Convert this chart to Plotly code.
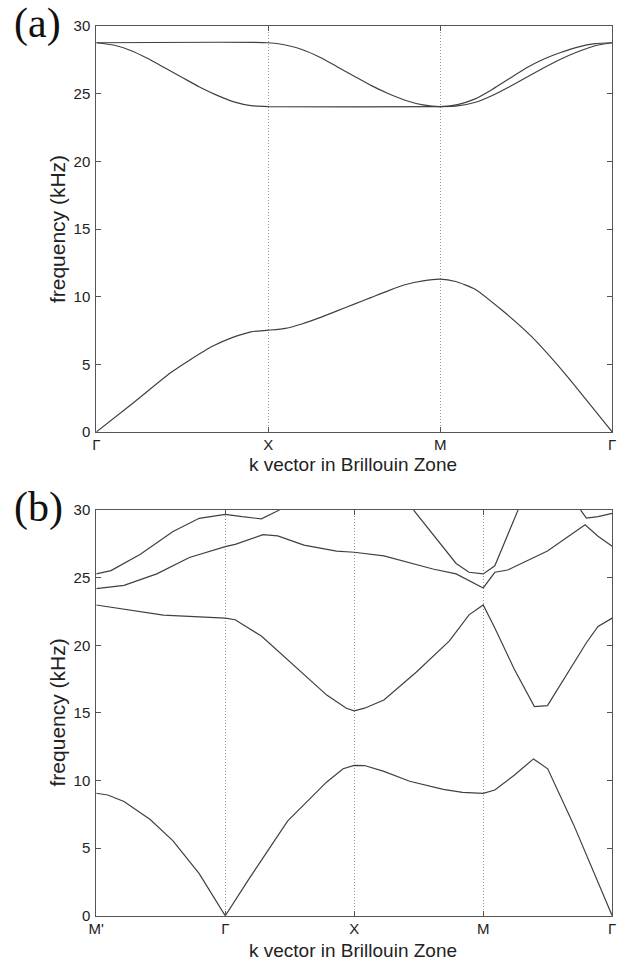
import plotly.graph_objects as go

# ---------------- Panel (a) data ----------------
a_ticks = [0, 1, 2, 3]
a_labels = ["Γ", "X", "M", "Γ"]

a1_k = [0, 0.22, 0.43, 0.542, 0.675, 0.79, 0.9, 1.0, 1.1, 1.2, 1.3, 1.4, 1.5, 1.6, 1.7, 1.8, 1.9, 2.0, 2.09, 2.2, 2.36, 2.53, 2.72, 3.0]
a1_f = [0, 2.2, 4.35, 5.3, 6.33, 6.97, 7.4, 7.52, 7.66, 8.0, 8.45, 8.95, 9.45, 9.95, 10.45, 10.9, 11.17, 11.29, 11.12, 10.57, 8.99, 7.06, 4.39, 0]

a2_k = [0, 0.1, 0.2, 0.3, 0.4, 0.5, 0.6, 0.7, 0.8, 0.9, 1.0, 2.0, 2.1, 2.2, 2.3, 2.4, 2.5, 2.6, 2.7, 2.8, 2.9, 3.0]
a2_f = [28.77, 28.6, 28.2, 27.6, 26.9, 26.2, 25.5, 24.9, 24.4, 24.12, 24.05, 24.05, 24.1, 24.35, 24.85, 25.5, 26.2, 26.9, 27.55, 28.1, 28.55, 28.77]

a3_k = [0, 1.0, 1.1, 1.2, 1.3, 1.4, 1.5, 1.6, 1.7, 1.8, 1.9, 2.0, 2.1, 2.2, 2.3, 2.4, 2.5, 2.6, 2.7, 2.8, 2.9, 3.0]
a3_f = [28.77, 28.77, 28.6, 28.25, 27.7, 27.0, 26.3, 25.6, 25.0, 24.5, 24.17, 24.05, 24.2, 24.6, 25.3, 26.1, 26.9, 27.55, 28.05, 28.45, 28.7, 28.77]

# ---------------- Panel (b) data ----------------
b_ticks = [0, 1, 2, 3, 4]
b_labels = ["M'", "Γ", "X", "M", "Γ"]

bD_k = [0, 0.089, 0.215, 0.418, 0.595, 0.798, 1.0, 1.178, 1.483, 1.787, 1.914, 2.0, 2.08, 2.23, 2.43, 2.69, 2.84, 3.0, 3.09, 3.24, 3.39, 3.50, 3.70, 4.0]
bD_f = [9.06, 8.93, 8.45, 7.12, 5.54, 3.12, 0, 2.64, 7.0, 9.9, 10.87, 11.12, 11.11, 10.68, 9.95, 9.35, 9.13, 9.06, 9.3, 10.39, 11.6, 10.87, 6.76, 0]

bA_k = [0, 0.215, 0.52, 1.0, 1.077, 1.28, 1.534, 1.787, 1.939, 2.0, 2.08, 2.23, 2.48, 2.738, 2.89, 3.0, 3.09, 3.24, 3.397, 3.498, 3.80, 3.89, 4.0]
bA_f = [22.98, 22.66, 22.23, 22.01, 21.89, 20.68, 18.5, 16.32, 15.35, 15.15, 15.35, 15.96, 18.01, 20.32, 22.25, 22.98, 21.28, 18.25, 15.47, 15.54, 20.19, 21.4, 22.01]

bB_k = [0, 0.215, 0.469, 0.722, 1.0, 1.077, 1.293, 1.407, 1.61, 1.863, 2.0, 2.23, 2.61, 2.79, 3.0, 3.09, 3.19, 3.498, 3.79, 3.89, 4.0]
bB_f = [24.19, 24.43, 25.28, 26.49, 27.29, 27.46, 28.18, 28.09, 27.41, 26.97, 26.88, 26.61, 25.64, 25.28, 24.24, 25.4, 25.57, 26.97, 28.91, 28.06, 27.33]

bC_k = [0, 0.114, 0.342, 0.595, 0.798, 1.0, 1.13, 1.28, 1.42, None, 2.46, 2.79, 2.89, 3.0, 3.09, 3.27, None, 3.755, 3.80, 3.89, 4.0]
bC_f = [25.28, 25.52, 26.73, 28.42, 29.39, 29.68, 29.51, 29.35, 30.0, None, 30.0, 26.05, 25.4, 25.28, 25.88, 30.0, None, 30.0, 29.4, 29.51, 29.76]

y_ticks = [0, 5, 10, 15, 20, 25, 30]

LINE_A = dict(color="#404040", width=1.2, shape="spline", smoothing=0.5)
LINE_B = dict(color="#404040", width=1.2)
FONT = "Liberation Sans, Arial, sans-serif"

fig = go.Figure()
for k, f in [(a1_k, a1_f), (a2_k, a2_f), (a3_k, a3_f)]:
    fig.add_trace(go.Scatter(x=k, y=f, mode="lines", line=LINE_A, xaxis="x", yaxis="y",
                             showlegend=False, hoverinfo="skip"))
for k, f in [(bD_k, bD_f), (bA_k, bA_f), (bB_k, bB_f), (bC_k, bC_f)]:
    fig.add_trace(go.Scatter(x=k, y=f, mode="lines", line=LINE_B, xaxis="x2", yaxis="y2",
                             showlegend=False, hoverinfo="skip", connectgaps=False))

W, H = 626, 969
xdom = [90 / W, 616 / W]
ya_dom = [1 - 430.5 / H, 1 - 17.4 / H]
yb_dom = [1 - 923 / H, 1 - 510 / H]

xcommon = dict(showline=True, linecolor="#555", linewidth=1, mirror="ticks",
               ticks="inside", ticklen=5, tickcolor="#555", ticklabelstandoff=-1,
               showgrid=True, gridcolor="#9a9a9a", griddash="1px,2px", gridwidth=1,
               zeroline=False, tickfont=dict(family=FONT, size=15, color="#222"))
ycommon = dict(showline=True, linecolor="#555", linewidth=1, mirror="ticks",
               ticks="inside", ticklen=5, tickcolor="#555", showgrid=False,
               ticklabelstandoff=2,
               zeroline=False, range=[0, 30], tickvals=y_ticks,
               tickfont=dict(family=FONT, size=15, color="#222"))

fig.update_layout(
    width=W, height=H, margin=dict(l=0, r=0, t=0, b=0),
    paper_bgcolor="white", plot_bgcolor="white",
    xaxis=dict(domain=xdom, range=[0, 3], tickvals=a_ticks, ticktext=a_labels,
               anchor="y", **xcommon),
    yaxis=dict(domain=ya_dom, anchor="x", **ycommon),
    xaxis2=dict(domain=xdom, range=[0, 4], tickvals=b_ticks, ticktext=b_labels,
                anchor="y2", **xcommon),
    yaxis2=dict(domain=yb_dom, anchor="x2", **ycommon),
)

ann = []
for ytitle_px, xtitle_px, lab, lab_px in [(224, 464, "(a)", 15), (716, 958, "(b)", 507)]:
    ann.append(dict(text="frequency (kHz)", xref="paper", yref="paper", x=50 / W, y=1 - ytitle_px / H,
                    xanchor="center", yanchor="middle", textangle=-90, showarrow=False,
                    font=dict(family=FONT, size=21, color="#222")))
    ann.append(dict(text="k vector in Brillouin Zone", xref="paper", yref="paper", x=352 / W,
                    y=1 - xtitle_px / H, xanchor="center", yanchor="middle", showarrow=False,
                    font=dict(family=FONT, size=19, color="#222")))
    ann.append(dict(text=lab, xref="paper", yref="paper", x=4 / W, y=1 - lab_px / H,
                    xanchor="left", yanchor="middle", showarrow=False,
                    font=dict(family="Liberation Serif, Times New Roman, serif", size=42, color="#111")))
fig.update_layout(annotations=ann)

fig.write_html("out.html")
